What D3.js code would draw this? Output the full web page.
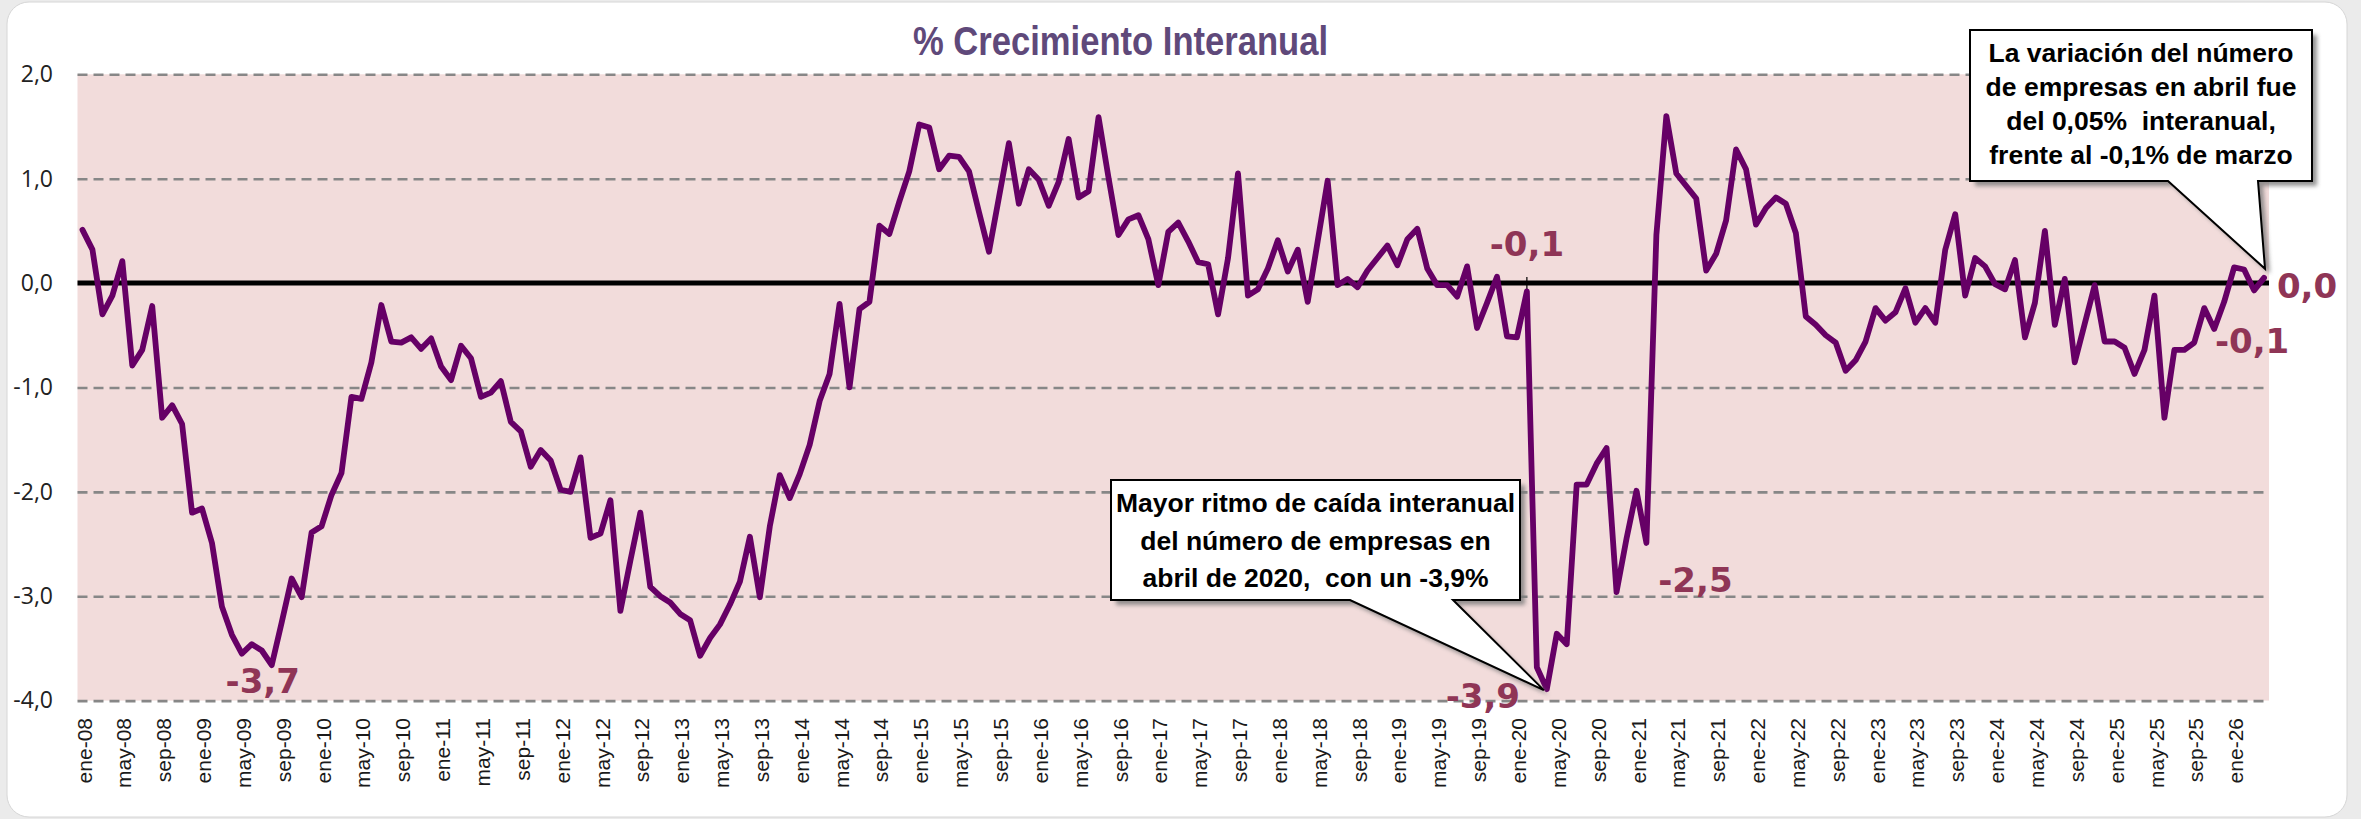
<!DOCTYPE html>
<html>
<head>
<meta charset="utf-8">
<script src="https://cdn.jsdelivr.net/npm/d3@7"></script>
<style>
html, body { margin: 0; padding: 0; background: #ebebeb; }
svg { display: block; }
</style>
</head>
<body>
<div id="chart"></div>
<script>

// data
const meses = ["ene","feb","mar","abr","may","jun","jul","ago","sep","oct","nov","dic"];
const anios = ["08","09","10","11","12","13","14","15","16","17","18","19","20","21","22","23","24","25","26"];
const ultimoMes = "abr-26";

// % crecimiento interanual, ene-08 .. abr-26
const crecimiento = [
	0.51, 0.32, -0.30, -0.12, 0.21, -0.79, -0.64, -0.22, -1.29, -1.17,
	-1.35, -2.20, -2.16, -2.49, -3.10, -3.37, -3.55, -3.46, -3.52, -3.66,
	-3.25, -2.83, -3.01, -2.39, -2.33, -2.03, -1.82, -1.09, -1.11, -0.76,
	-0.21, -0.56, -0.57, -0.52, -0.63, -0.53, -0.80, -0.93, -0.60, -0.72,
	-1.09, -1.05, -0.94, -1.33, -1.42, -1.76, -1.60, -1.70, -1.98, -2.00,
	-1.67, -2.44, -2.40, -2.08, -3.14, -2.66, -2.20, -2.91, -3.00, -3.06,
	-3.17, -3.23, -3.57, -3.40, -3.27, -3.08, -2.86, -2.43, -3.01, -2.33,
	-1.84, -2.06, -1.83, -1.55, -1.13, -0.87, -0.20, -1.00, -0.25, -0.18,
	0.55, 0.47, 0.78, 1.07, 1.52, 1.49, 1.09, 1.22, 1.21, 1.07,
	0.68, 0.30, 0.82, 1.34, 0.76, 1.09, 0.99, 0.74, 0.97, 1.38,
	0.82, 0.88, 1.59, 1.01, 0.46, 0.61, 0.65, 0.42, -0.02, 0.49,
	0.58, 0.40, 0.20, 0.18, -0.30, 0.24, 1.05, -0.12, -0.06, 0.14,
	0.41, 0.11, 0.32, -0.18, 0.40, 0.98, -0.02, 0.04, -0.04, 0.12,
	0.24, 0.36, 0.17, 0.42, 0.52, 0.14, -0.02, -0.02, -0.13, 0.16,
	-0.43, -0.19, 0.06, -0.51, -0.52, -0.08, -3.68, -3.89, -3.36, -3.46,
	-1.93, -1.93, -1.73, -1.58, -2.96, -2.45, -1.99, -2.49, 0.46, 1.60,
	1.05, 0.93, 0.81, 0.12, 0.28, 0.60, 1.28, 1.09, 0.56, 0.72,
	0.82, 0.76, 0.48, -0.32, -0.40, -0.50, -0.57, -0.84, -0.74, -0.56,
	-0.24, -0.36, -0.28, -0.05, -0.38, -0.24, -0.38, 0.32, 0.66, -0.12,
	0.24, 0.16, -0.01, -0.06, 0.22, -0.52, -0.19, 0.50, -0.40, 0.04,
	-0.76, -0.39, -0.02, -0.56, -0.56, -0.62, -0.87, -0.64, -0.12, -1.29,
	-0.64, -0.64, -0.57, -0.24, -0.44, -0.18, 0.15, 0.13, -0.07, 0.05
];

const yTicks = [2, 1, 0, -1, -2, -3, -4];

const etiquetas = [
	{mes: "ago-09", texto: "-3,7"},
	{mes: "feb-20", texto: "-0,1"},
	{mes: "abr-20", texto: "-3,9"},
	{mes: "feb-21", texto: "-2,5"},
	{mes: "mar-26", texto: "-0,1"},
	{mes: "abr-26", texto: "0,0"}
];

const notaCaida = ["Mayor ritmo de caída interanual", "del número de empresas en", "abril de 2020,  con un -3,9%"];
const notaUltimo = ["La variación del número", "de empresas en abril fue", "del 0,05%  interanual,", "frente al -0,1% de marzo"];

const titulo = "% Crecimiento Interanual";

// categories ene-08 .. ultimoMes
let categorias = [];
anios.forEach(a => meses.forEach(m => categorias.push(m + "-" + a)));
categorias = categorias.slice(0, categorias.indexOf(ultimoMes) + 1);

const data = categorias.map((c, i) => ({mes: c, valor: crecimiento[i]}));

// setup
const width = 2361;
const height = 819;
const plot = {left: 77.5, right: 2269, top: 74.3, bottom: 700.6};
const plotWidth = plot.right - plot.left;

const svg = d3.select("#chart").append("svg")
	.attr("width", width)
	.attr("height", height);

const defs = svg.append("defs");
defs.append("filter").attr("id", "sombra")
	.attr("x", "-10%").attr("y", "-10%").attr("width", "130%").attr("height", "130%")
  .append("feGaussianBlur").attr("stdDeviation", 2);

// card
svg.append("rect")
	.attr("x", 7).attr("y", 2)
	.attr("width", 2340).attr("height", 815)
	.attr("rx", 22)
	.attr("fill", "#ffffff")
	.attr("stroke", "#d6d6d6");

// scales
const xScale = d3.scaleBand()
	.domain(categorias)
	.range([plot.left, plot.right]);

const xc = m => xScale(m) + xScale.bandwidth() / 2;

const yScale = d3.scaleLinear()
	.domain([-4, 2])
	.range([plot.bottom, plot.top]);

const valorDe = m => data[categorias.indexOf(m)].valor;

const locale = d3.formatLocale({decimal: ",", thousands: ".", grouping: [3], currency: ["", "€"], minus: "-"});

// plot background
svg.append("rect")
	.attr("x", plot.left)
	.attr("y", yScale(2))
	.attr("width", plotWidth)
	.attr("height", yScale(-4) - yScale(2))
	.attr("fill", "#f2dcdb");

// y grid
const yGrid = svg.append("g")
	.attr("transform", `translate(${plot.left}, 0)`)
	.call(d3.axisLeft(yScale)
		.tickValues(yTicks.filter(d => d !== 0))
		.tickSize(-plotWidth)
		.tickFormat("")
	);
yGrid.select(".domain").remove();
yGrid.selectAll("line")
	.attr("stroke", "#878787")
	.attr("stroke-width", 2.6)
	.attr("stroke-dasharray", "10,6");

// y axis labels
const yAxis = svg.append("g")
	.attr("transform", `translate(53, 0)`)
	.call(d3.axisLeft(yScale)
		.tickValues(yTicks)
		.tickSize(0)
		.tickPadding(0)
		.tickFormat(locale.format(".1f"))
	);
yAxis.select(".domain").remove();
yAxis.selectAll("text")
	.attr("fill", "#222")
	.style("font-family", "'Open Sans', sans-serif")
	.style("font-size", "23px");

// x axis labels
const xAxis = svg.append("g")
	.attr("transform", `translate(1.5, 718)`)
	.call(d3.axisBottom(xScale)
		.tickValues(categorias.filter((d, i) => i % 4 === 0))
		.tickSize(0)
	);
xAxis.select(".domain").remove();
xAxis.selectAll("text")
	.attr("x", 0)
	.attr("y", 0)
	.attr("dy", "0.36em")
	.attr("transform", "rotate(-90)")
	.style("text-anchor", "end")
	.attr("fill", "#1a1a1a")
	.style("font-family", "'Liberation Sans', Arial, sans-serif")
	.style("font-size", "21px");

// zero line
svg.append("line")
	.attr("x1", plot.left)
	.attr("x2", plot.right)
	.attr("y1", yScale(0))
	.attr("y2", yScale(0))
	.attr("stroke", "#000")
	.attr("stroke-width", 5);

// small leader at feb-20
svg.append("line")
	.attr("x1", xc("feb-20"))
	.attr("x2", xc("feb-20"))
	.attr("y1", yScale(0) - 6)
	.attr("y2", yScale(0) + 6)
	.attr("stroke", "#000")
	.attr("stroke-width", 1.2);

// line
const line = d3.line()
	.x(d => xc(d.mes))
	.y(d => yScale(d.valor));

svg.append("path")
  .datum(data)
	.attr("fill", "none")
	.attr("stroke", "#660066")
	.attr("stroke-width", 5.8)
	.attr("stroke-linejoin", "round")
	.attr("stroke-linecap", "round")
	.attr("d", line);

// value labels
const offsets = {
	"ago-09": [-9, 28],
	"feb-20": [0, -35],
	"abr-20": [-64, 19],
	"feb-21": [49, 49],
	"mar-26": [-2, 63],
	"abr-26": [43, 20]
};

svg.selectAll(".valLabel")
  .data(etiquetas)
	.enter()
  .append("text")
	.attr("class", "valLabel")
	.attr("x", d => xc(d.mes) + offsets[d.mes][0])
	.attr("y", d => yScale(valorDe(d.mes)) + offsets[d.mes][1])
	.attr("text-anchor", "middle")
	.attr("fill", "#8f3556")
	.style("font-family", "'DejaVu Sans', sans-serif")
	.style("font-weight", "bold")
	.style("font-size", "34px")
	.text(d => d.texto);

// callouts
function callout(box, base, tip, lineas, baseline, lineH) {
	const p = `M${box.x0},${box.y0}H${box.x1}V${box.y1}H${base[1]}L${tip[0]},${tip[1]}L${base[0]},${box.y1}H${box.x0}Z`;
	const g = svg.append("g");
	g.append("path")
		.attr("d", p)
		.attr("transform", "translate(5,5)")
		.attr("fill", "#7a7a7a")
		.attr("opacity", 0.8)
		.attr("filter", "url(#sombra)");
	g.append("path")
		.attr("d", p)
		.attr("fill", "#fff")
		.attr("stroke", "#000")
		.attr("stroke-width", 2);
	g.selectAll("text")
	  .data(lineas)
		.enter()
	  .append("text")
		.attr("x", (box.x0 + box.x1) / 2)
		.attr("y", (d, i) => baseline + i * lineH)
		.attr("text-anchor", "middle")
		.attr("fill", "#000")
		.style("font-family", "'Liberation Sans', Arial, sans-serif")
		.style("font-weight", "bold")
		.style("font-size", "26.5px")
		.style("white-space", "pre")
		.text(d => d);
}

callout({x0: 1111, x1: 1520, y0: 480, y1: 600}, [1350, 1453],
	[xc("abr-20") - 3, yScale(valorDe("abr-20")) + 1], notaCaida, 512, 37.5);

callout({x0: 1970, x1: 2312, y0: 30, y1: 181}, [2168, 2258],
	[xc("abr-26") + 1, yScale(valorDe("abr-26")) - 9], notaUltimo, 62, 34);

// title
svg.append("text")
	.attr("x", 913)
	.attr("y", 55)
	.attr("textLength", 415)
	.attr("lengthAdjust", "spacingAndGlyphs")
	.attr("fill", "#5f497a")
	.style("font-family", "'Liberation Sans Narrow', 'Liberation Sans', Arial, sans-serif")
	.style("font-weight", "bold")
	.style("font-size", "41px")
	.text(titulo);

</script>
</body>
</html>
